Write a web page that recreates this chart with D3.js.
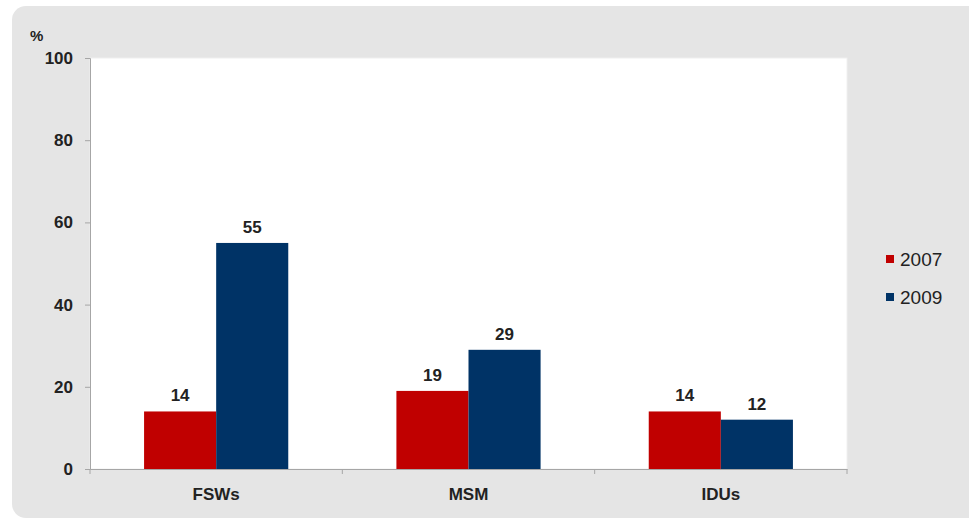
<!DOCTYPE html>
<html>
<head>
<meta charset="utf-8">
<script src="https://cdn.jsdelivr.net/npm/d3@7"></script>
<style>
  body { margin: 0; background: #fff; }
  text { font-family: "Liberation Sans", Arial, sans-serif; }
</style>
</head>
<body>
<div id="chart"></div>
<script>
// data
var categories = ['FSWs', 'MSM', 'IDUs'];
var years = ['2007', '2009'];
var values2007 = [14, 19, 14];
var values2009 = [55, 29, 12];
var yTicks = [0, 20, 40, 60, 80, 100];
var colors = ['#c00000', '#003366'];

var width_svg = 969, height_svg = 522;
var margin = {left: 90, right: 122, top: 58, bottom: 53};
var width = width_svg - margin.left - margin.right;
var height = height_svg - margin.top - margin.bottom;

var svg = d3.select('#chart')
    .append('svg')
    .attr('width', width_svg)
    .attr('height', height_svg);

// grey panel
svg.append('rect')
    .attr('x', 12)
    .attr('y', 6)
    .attr('width', 970)
    .attr('height', 512)
    .attr('rx', 14)
    .style('fill', '#e5e5e5');

// plot area
svg.append('rect')
    .attr('x', margin.left)
    .attr('y', margin.top)
    .attr('width', width)
    .attr('height', height)
    .style('fill', '#fff')
    .style('stroke', '#f0f0f0');

var x = d3.scaleBand()
    .domain(categories)
    .range([margin.left, margin.left + width]);

var x1 = d3.scaleBand()
    .domain(years)
    .range([0, x.bandwidth()])
    .paddingOuter(0.75)
    .paddingInner(0);

var y = d3.scaleLinear()
    .domain([0, 100])
    .range([margin.top + height, margin.top]);

// bars
var series = [values2007, values2009];
var group = svg.selectAll('g.cat')
    .data(categories)
    .join('g')
    .attr('class', 'cat')
    .attr('transform', function(d) { return 'translate(' + x(d) + ',0)'; });

group.selectAll('rect')
    .data(function(d, i) {
        return years.map(function(yr, j) { return {year: yr, value: series[j][i], color: colors[j]}; });
    })
    .join('rect')
    .attr('x', function(d) { return x1(d.year); })
    .attr('y', function(d) { return y(d.value); })
    .attr('width', x1.bandwidth())
    .attr('height', function(d) { return y(0) - y(d.value); })
    .style('fill', function(d) { return d.color; });

group.selectAll('text.val')
    .data(function(d, i) {
        return years.map(function(yr, j) { return {year: yr, value: series[j][i]}; });
    })
    .join('text')
    .attr('class', 'val')
    .attr('x', function(d) { return x1(d.year) + x1.bandwidth() / 2; })
    .attr('y', function(d) { return y(d.value) - 10; })
    .attr('text-anchor', 'middle')
    .text(function(d) { return d.value; })
    .style('font-size', '17px')
    .style('font-weight', 'bold')
    .style('fill', '#222');

// y axis
var yAxis = svg.append('g')
    .attr('transform', 'translate(' + margin.left + ',0)')
    .call(d3.axisLeft(y).tickValues(yTicks).tickSize(5).tickPadding(12));
yAxis.selectAll('text')
    .style('font-size', '17px')
    .style('font-weight', 'bold')
    .style('fill', '#222');

// x axis
var xAxis = svg.append('g')
    .attr('transform', 'translate(0,' + (margin.top + height) + ')')
    .call(d3.axisBottom(x).tickSize(0).tickPadding(19));
xAxis.selectAll('text')
    .style('font-size', '17px')
    .style('font-weight', 'bold')
    .style('fill', '#222');
xAxis.selectAll('.boundary')
    .data(categories.concat(['end']))
    .join('line')
    .attr('class', 'boundary')
    .attr('x1', function(d, i) { return margin.left + i * x.bandwidth(); })
    .attr('x2', function(d, i) { return margin.left + i * x.bandwidth(); })
    .attr('y1', 0)
    .attr('y2', 5);

svg.selectAll('.domain, .tick line, .boundary')
    .style('stroke', '#a6a6a6');

svg.append('text')
    .attr('x', 30)
    .attr('y', 41)
    .text('%')
    .style('font-size', '15px')
    .style('font-weight', 'bold')
    .style('fill', '#222');

// legend
var legend = svg.selectAll('g.legend')
    .data(years)
    .join('g')
    .attr('class', 'legend')
    .attr('transform', function(d, i) { return 'translate(886,' + (259 + i * 38) + ')'; });

legend.append('rect')
    .attr('x', 0)
    .attr('y', -4)
    .attr('width', 8)
    .attr('height', 8)
    .style('fill', function(d, i) { return colors[i]; });

legend.append('text')
    .attr('x', 14)
    .attr('y', 0)
    .attr('dy', '0.35em')
    .text(function(d) { return d; })
    .style('font-size', '19px')
    .style('fill', '#222');
</script>
</body>
</html>
